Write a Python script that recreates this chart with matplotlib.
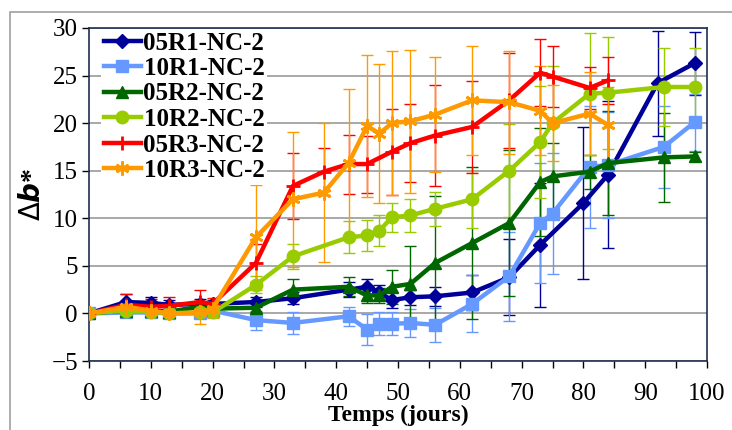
import numpy as np
import matplotlib
matplotlib.use("Agg")
import matplotlib.pyplot as plt
from matplotlib.patches import Rectangle

plt.rcParams['font.family'] = ['Liberation Serif', 'DejaVu Serif']

# --- data ------------------------------------------------------------------
t_05R1 = [0, 6, 10, 13, 18, 20, 27, 33, 42, 45, 47, 49, 52, 56, 62, 68, 73, 80, 84, 92, 98]
y_05R1 = [0, 1.2, 1.1, 0.9, 1.0, 1.0, 1.2, 1.6, 2.5, 2.8, 2.2, 1.4, 1.7, 1.8, 2.2, 3.8, 7.2, 11.6, 14.6, 24.2, 26.3]
e_05R1 = [0.2, 0.8, 0.6, 0.5, 0.5, 0.4, 0.5, 0.6, 0.8, 0.8, 0.8, 0.8, 0.8, 1.0, 1.8, 4.0, 6.5, 8.0, 7.7, 5.5, 3.3]

t_10R1 = [0, 6, 10, 13, 18, 20, 27, 33, 42, 45, 47, 49, 52, 56, 62, 68, 73, 75, 81, 84, 93, 98]
y_10R1 = [0, 0.1, 0.1, 0.0, 0.0, 0.3, -0.7, -1.0, -0.3, -1.7, -1.1, -1.1, -1.0, -1.2, 1.0, 3.9, 9.5, 10.5, 15.4, 15.6, 17.5, 20.1]
e_10R1 = [0.2, 0.3, 0.3, 0.3, 0.3, 0.3, 1.0, 1.2, 1.0, 1.6, 1.2, 1.2, 1.5, 1.8, 3.0, 4.7, 6.3, 6.4, 6.4, 5.6, 4.3, 3.0]

t_05R2 = [0, 6, 10, 13, 18, 20, 27, 33, 42, 45, 47, 49, 52, 56, 62, 68, 73, 75, 81, 84, 93, 98]
y_05R2 = [0, 0.3, 0.3, 0.2, 0.7, 0.5, 0.6, 2.5, 2.8, 1.9, 1.9, 2.8, 3.1, 5.3, 7.4, 9.5, 13.8, 14.4, 14.9, 15.8, 16.4, 16.5]
e_05R2 = [0.2, 0.4, 0.4, 0.4, 0.4, 0.4, 0.5, 1.1, 1.0, 0.8, 0.8, 1.8, 4.0, 7.0, 8.0, 7.7, 5.7, 3.5, 1.8, 5.5, 4.7, 0.5]

t_10R2 = [0, 6, 10, 13, 18, 20, 27, 33, 42, 45, 47, 49, 52, 56, 62, 68, 73, 75, 81, 84, 93, 98]
y_10R2 = [0, 0.3, 0.2, 0.0, 0.1, 0.1, 3.0, 6.0, 8.0, 8.2, 8.7, 10.1, 10.3, 11.0, 12.0, 15.0, 18.0, 20.0, 23.1, 23.2, 23.8, 23.8]
e_10R2 = [0.2, 0.4, 0.4, 0.4, 0.4, 0.4, 0.9, 1.3, 1.7, 1.6, 1.6, 1.5, 1.7, 1.8, 3.0, 4.9, 5.9, 6.0, 6.4, 5.9, 4.1, 4.1]

t_05R3 = [0, 6, 10, 13, 18, 20, 27, 33, 38, 42, 45, 49, 52, 56, 62, 68, 73, 75, 81, 84]
y_05R3 = [0, 0.9, 0.7, 0.8, 1.2, 1.0, 5.3, 13.4, 14.9, 15.7, 15.7, 17.0, 17.9, 18.7, 19.6, 22.4, 25.3, 24.9, 23.7, 24.5]
e_05R3 = [0.2, 1.1, 0.8, 0.9, 1.3, 0.6, 2.0, 3.5, 2.5, 3.1, 3.0, 4.5, 4.1, 5.3, 4.8, 5.0, 3.5, 3.2, 2.2, 2.5]

t_10R3 = [0, 6, 10, 13, 18, 20, 27, 33, 38, 42, 45, 47, 49, 52, 56, 62, 68, 73, 75, 81, 84]
y_10R3 = [0, 0.7, 0.3, 0.0, 0.1, 0.5, 8.0, 12.0, 12.7, 15.8, 19.7, 18.9, 20.0, 20.2, 20.9, 22.4, 22.2, 21.3, 20.0, 21.0, 19.8]
e_10R3 = [0.3, 0.5, 0.5, 0.5, 1.2, 1.0, 5.5, 7.1, 7.3, 7.8, 7.5, 7.3, 7.6, 7.5, 6.0, 5.7, 5.4, 4.7, 4.0, 4.4, 4.0]

labels = ['05R1-NC-2', '10R1-NC-2', '05R2-NC-2', '10R2-NC-2', '05R3-NC-2', '10R3-NC-2']
colors = ['#000099', '#6699FF', '#006600', '#99CC00', '#FF0000', '#FF9900']
markers = ['D', 's', '^', 'o', '+', (6, 2, 0)]
msizes = [7, 8, 8, 9, 10, 10]

series = [(t_05R1, y_05R1, e_05R1), (t_10R1, y_10R1, e_10R1), (t_05R2, y_05R2, e_05R2),
          (t_10R2, y_10R2, e_10R2), (t_05R3, y_05R3, e_05R3), (t_10R3, y_10R3, e_10R3)]

fig = plt.figure(figsize=(7.32, 4.30), dpi=100)
ax = fig.add_axes([89/732, 1-361/430, (707-89)/732, (361-28)/430])

# outer chart frame
fig.patches.append(Rectangle((10/732, -0.05), 1.0, 1.05 - 12/430, transform=fig.transFigure,
                             fill=False, edgecolor='#a0a0a0', linewidth=1.2))

for (t, y, e), lab, c, m, ms in zip(series, labels, colors, markers, msizes):
    ax.errorbar(t, y, yerr=e, fmt='none', ecolor=c, elinewidth=1.0, capsize=4, capthick=1.0, zorder=3)
    ax.plot(t, y, color=c, lw=3.2, marker=m, ms=ms, mew=2 if m in ('+', (6, 2, 0)) else 1,
            mec=c, mfc=c, label=lab, zorder=4)

ax.set_xlim(0, 100)
ax.set_ylim(-5, 30)
ax.set_xticks(np.arange(0, 101, 10))
ax.set_xticks(np.arange(0, 101, 5), minor=True)
ax.set_yticks(np.arange(-5, 31, 5))
ax.yaxis.grid(True, color='#999999', lw=1.2)
ax.set_axisbelow(True)

ax.tick_params(axis='both', labelsize=18, direction='out', length=5, width=1, colors='black')
ax.tick_params(axis='y', pad=3)
ax.tick_params(axis='x', pad=11)
ax.tick_params(axis='x', which='minor', direction='out', length=5, width=1)
for sp in ax.spines.values():
    sp.set_color('#1f2f4f')
    sp.set_linewidth(1.2)

ax.set_xlabel('Temps (jours)', fontsize=17, fontweight='bold', labelpad=0)
ax.set_ylabel(r'$\Delta\mathbfit{b}$*', fontsize=20, fontweight='bold', labelpad=4)

leg = ax.legend(loc='upper left', bbox_to_anchor=(12/618, 1 - 1/333), frameon=True, fancybox=False,
                framealpha=1, edgecolor='none', facecolor='white',
                prop={'weight': 'bold', 'size': 18}, handlelength=1.5,
                handletextpad=0.1, labelspacing=0.1, borderpad=0.1, borderaxespad=0)

fig.savefig('out.png', dpi=100)
